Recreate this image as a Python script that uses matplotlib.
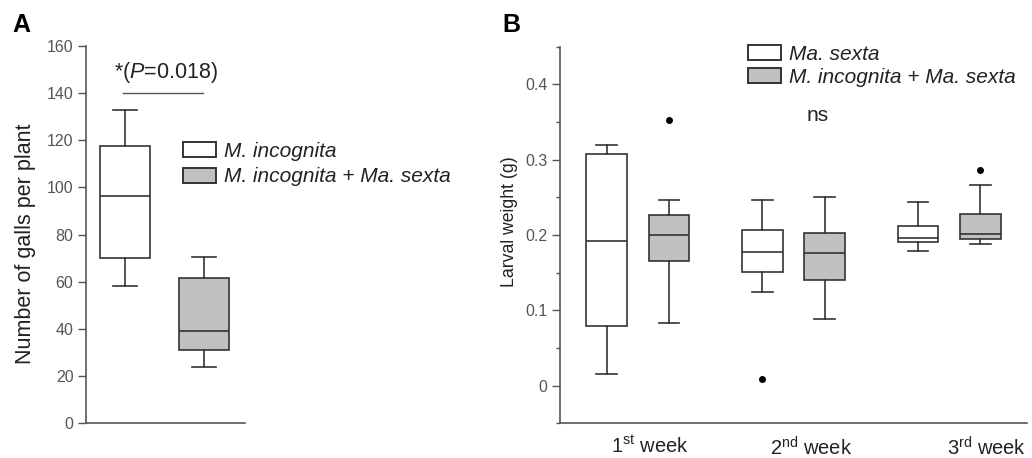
import matplotlib
matplotlib.use("Agg")
import matplotlib.pyplot as plt
from matplotlib.patches import Patch
from matplotlib.ticker import MultipleLocator

plt.rcParams['font.family'] = ['Liberation Sans', 'DejaVu Sans']
plt.rcParams['mathtext.fontset'] = 'custom'
plt.rcParams['mathtext.rm'] = 'Liberation Sans'
plt.rcParams['mathtext.it'] = 'Liberation Sans:italic'

# ---------------- data ----------------
# Panel A: number of galls per plant
a_groups = ['M. incognita', 'M. incognita + Ma. sexta']
a_whislo = [58.2, 24.0]
a_q1 = [70.0, 31.0]
a_med = [96.5, 39.0]
a_q3 = [117.7, 61.8]
a_whishi = [132.9, 70.7]
a_pval_text = '*($\\mathit{P}$=0.018)'

# Panel B: larval weight (g)
b_weeks = ['1$^{\\mathrm{st}}$ week', '2$^{\\mathrm{nd}}$ week', '3$^{\\mathrm{rd}}$ week']
b_series = ['Ma. sexta', 'M. incognita + Ma. sexta']
b_ms_whislo = [0.0155, 0.124, 0.179]
b_ms_q1 = [0.0795, 0.151, 0.1907]
b_ms_med = [0.1916, 0.178, 0.196]
b_ms_q3 = [0.307, 0.206, 0.212]
b_ms_whishi = [0.319, 0.246, 0.2433]
b_ms_fliers = [[], [0.0085], []]

b_mims_whislo = [0.0835, 0.0888, 0.1877]
b_mims_q1 = [0.1656, 0.140, 0.1947]
b_mims_med = [0.200, 0.176, 0.2018]
b_mims_q3 = [0.227, 0.203, 0.2274]
b_mims_whishi = [0.246, 0.250, 0.267]
b_mims_fliers = [[0.353], [], [0.286]]

# ---------------- style ----------------
W, H = 1032, 458
fill_colors = ['white', '#c0c0c0']
edge = '#333333'
spine_c = '#555555'
tick_c = '#555555'
text_c = '#222222'

fig = plt.figure(figsize=(W / 100, H / 100), dpi=100)


def style_axes(ax):
    for s in ['top', 'right']:
        ax.spines[s].set_visible(False)
    for s in ['left', 'bottom']:
        ax.spines[s].set_color(spine_c)
        ax.spines[s].set_linewidth(1.2)
    ax.tick_params(axis='y', which='major', direction='out', length=5.5, width=1.0,
                   color=spine_c, labelcolor=tick_c, labelsize=11.5, pad=3.5)
    ax.tick_params(axis='y', which='minor', direction='out', length=3, width=1.0,
                   color=spine_c)


def make_stats(lo, q1, med, q3, hi, fliers=None):
    out = []
    for i in range(len(med)):
        out.append(dict(whislo=lo[i], q1=q1[i], med=med[i], q3=q3[i], whishi=hi[i],
                        fliers=(fliers[i] if fliers is not None else [])))
    return out


def draw_boxes(ax, stats, positions, width, capw, color):
    ax.bxp(stats, positions=positions, widths=width, capwidths=capw,
           patch_artist=True, showfliers=True,
           boxprops=dict(facecolor=color, edgecolor=edge, linewidth=1.2),
           whiskerprops=dict(color=edge, linewidth=1.2),
           capprops=dict(color=edge, linewidth=1.2),
           medianprops=dict(color=edge, linewidth=1.2),
           flierprops=dict(marker='o', markerfacecolor='black', markeredgecolor='black',
                           markersize=4, linestyle='none'))


# ---------------- Panel A ----------------
ax1 = fig.add_axes([86 / W, 1 - 423.3 / H, 159 / W, 377.3 / H])
style_axes(ax1)
a_stats = make_stats(a_whislo, a_q1, a_med, a_q3, a_whishi)
for i in range(len(a_groups)):
    draw_boxes(ax1, [a_stats[i]], [i + 1], 0.633, 0.30, fill_colors[i])
ax1.set_xlim(0.506, 2.519)
ax1.set_ylim(0, 160)
ax1.set_yticks(range(0, 161, 20))
ax1.set_xticks([])
ax1.plot([0.971, 1.983], [140, 140], color='#555555', linewidth=1.0)
ax1.text(1.519, 148.6, a_pval_text, ha='center', va='center', fontsize=15.5, color=text_c)
fig.text(26 / W, 1 - 243.5 / H, 'Number of galls per plant', rotation=90,
         ha='center', va='center', fontsize=15.5, color=text_c)
handles_a = [Patch(facecolor=fill_colors[i], edgecolor=edge, linewidth=1.4) for i in range(2)]
leg_a = fig.legend(handles_a, a_groups, loc='upper left', bbox_to_anchor=(183 / W, 1 - 142 / H),
                   bbox_transform=fig.transFigure, frameon=False, borderpad=0, borderaxespad=0,
                   handlelength=1.6, handleheight=0.72, handletextpad=0.38, labelspacing=0.31,
                   prop=dict(family='Liberation Sans', style='italic', size=15))
for t in leg_a.get_texts():
    t.set_color(text_c)
fig.text(12 / W, 1 - 25 / H, 'A', fontsize=18, fontweight='bold', ha='left', va='center',
         color='black')

# ---------------- Panel B ----------------
ax2 = fig.add_axes([560 / W, 1 - 423.3 / H, 467 / W, 376.6 / H])
style_axes(ax2)
ms_stats = make_stats(b_ms_whislo, b_ms_q1, b_ms_med, b_ms_q3, b_ms_whishi, b_ms_fliers)
mims_stats = make_stats(b_mims_whislo, b_mims_q1, b_mims_med, b_mims_q3, b_mims_whishi, b_mims_fliers)
grp = [1, 2, 3]
draw_boxes(ax2, ms_stats, [g - 0.2 for g in grp], 0.26, 0.133, fill_colors[0])
draw_boxes(ax2, mims_stats, [g + 0.2 for g in grp], 0.26, 0.133, fill_colors[1])
ax2.set_xlim(0.5, 3.5)
ax2.set_ylim(-0.05, 0.45)
ax2.set_yticks([0, 0.1, 0.2, 0.3, 0.4])
ax2.set_yticklabels(['0', '0.1', '0.2', '0.3', '0.4'])
ax2.yaxis.set_minor_locator(MultipleLocator(0.05))
label_x = [1.077, 2.115, 3.237]
ax2.set_xticks(label_x)
ax2.set_xticklabels(b_weeks)
ax2.tick_params(axis='x', length=0, pad=9, labelsize=14.5, labelcolor=text_c)
ax2.text(2.154, 0.3585, 'ns', ha='center', va='center', fontsize=15, color=text_c)
fig.text(509 / W, 1 - 222 / H, 'Larval weight (g)', rotation=90,
         ha='center', va='center', fontsize=12.7, color=text_c)
handles_b = [Patch(facecolor=fill_colors[i], edgecolor=edge, linewidth=1.4) for i in range(2)]
leg_b = fig.legend(handles_b, b_series, loc='upper left', bbox_to_anchor=(748 / W, 1 - 45 / H),
                   bbox_transform=fig.transFigure, frameon=False, borderpad=0, borderaxespad=0,
                   handlelength=1.6, handleheight=0.72, handletextpad=0.38, labelspacing=0.2,
                   prop=dict(family='Liberation Sans', style='italic', size=15))
for t in leg_b.get_texts():
    t.set_color(text_c)
fig.text(502 / W, 1 - 25 / H, 'B', fontsize=18, fontweight='bold', ha='left', va='center',
         color='black')

fig.savefig('out.png', dpi=100)
